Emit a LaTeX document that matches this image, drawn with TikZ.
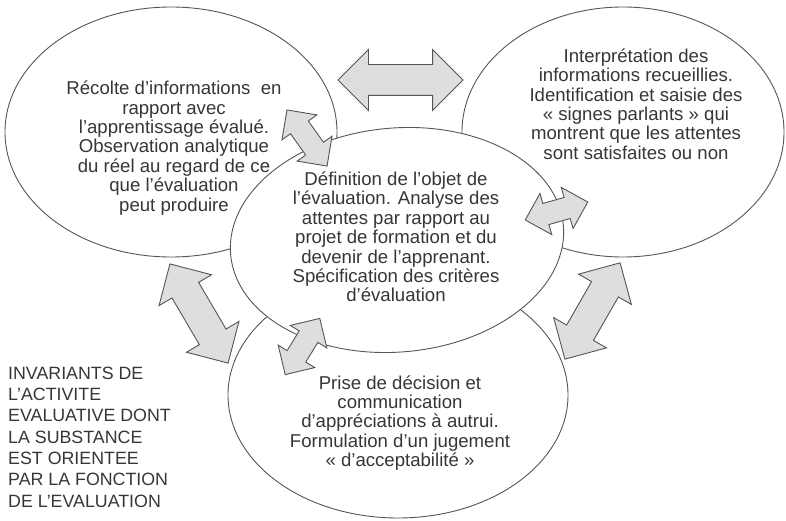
\documentclass[tikz,border=0pt]{standalone}
\usepackage{fontspec}
\setmainfont{Liberation Sans}
\usetikzlibrary{shapes.geometric,shapes.arrows}

\definecolor{LineGray}{HTML}{555555}
\definecolor{TextGray}{HTML}{363636}
\definecolor{ArrowFill}{HTML}{DEDEDF}

\tikzset{
  bubble/.style={ellipse, draw=LineGray, line width=0.9pt, inner sep=0pt},
  bubbletext/.style={text=TextGray, align=center, inner sep=0pt,
    font=\fontsize{18.6}{19.4}\selectfont},
  bigarrow/.style={double arrow, draw=LineGray, fill=ArrowFill, line width=0.9pt,
    inner sep=15pt, double arrow head extend=15pt, minimum height=#1},
  smallarrow/.style={double arrow, draw=LineGray, fill=ArrowFill, line width=0.9pt,
    inner sep=10.5pt, double arrow head extend=10.5pt, minimum height=#1}
}

\begin{document}
\begin{tikzpicture}[x=1pt,y=1pt]
    \useasboundingbox (0,0) rectangle (786,520);
    % the four ellipses, the central one on top
    \node[bubble, minimum width=332, minimum height=250] (recolte) at (171,388) {};
    \node[bubble, minimum width=322, minimum height=250] (interpretation) at (623,388) {};
    \node[bubble, minimum width=340, minimum height=246] (decision) at (398,125) {};
    \node[bubble, fill=white, minimum width=334, minimum height=224, rotate=5] (definition) at (397,280) {};
    % texts
    \node[bubbletext] (recoltetxt) at (174,372) {Récolte d’informations\ \ en\\ rapport avec\\ l’apprentissage évalué.\\ Observation analytique\\ du réel au regard de ce\\ que l’évaluation\\ peut produire};
    \node[bubbletext] (interpretationtxt) at (636,416) {Interprétation des\\ informations recueillies.\\ Identification et saisie des\\ « signes parlants » qui\\ montrent que les attentes\\ sont satisfaites ou non};
    \node[bubbletext] (definitiontxt) at (396,283) {Définition de l’objet de\\ l’évaluation. Analyse des\\ attentes par rapport au\\ projet de formation et du\\ devenir de l’apprenant.\\ Spécification des critères\\ d’évaluation};
    \node[bubbletext] (decisiontxt) at (400,97) {Prise de décision et\\ communication\\ d’appréciations à autrui.\\ Formulation d’un jugement\\ « d’acceptabilité »};
    \node[text=TextGray, align=left, inner sep=0pt, anchor=west,
      font=\fontsize{17.8}{21.3}\selectfont] (invariants) at (8,83)
      {INVARIANTS DE\\ L’ACTIVITE\\ EVALUATIVE DONT\\ LA SUBSTANCE\\ EST ORIENTEE\\ PAR LA FONCTION\\ DE L’EVALUATION};
    % double arrows between the ellipses
    \node[bigarrow=125] (arrtop) at (400.5,440) {};
    \node[smallarrow=69, rotate=-54.5] (arrrecdef) at (307,382) {};
    \node[smallarrow=65, rotate=16] (arrdefint) at (556.5,309) {};
    \node[bigarrow=115, rotate=-59.6] (arrrecdec) at (199,206.5) {};
    \node[smallarrow=66, rotate=58.4] (arrdefdec) at (302.5,173.5) {};
    \node[bigarrow=111, rotate=60.2] (arrintdec) at (592.5,209) {};
\end{tikzpicture}
\end{document}
